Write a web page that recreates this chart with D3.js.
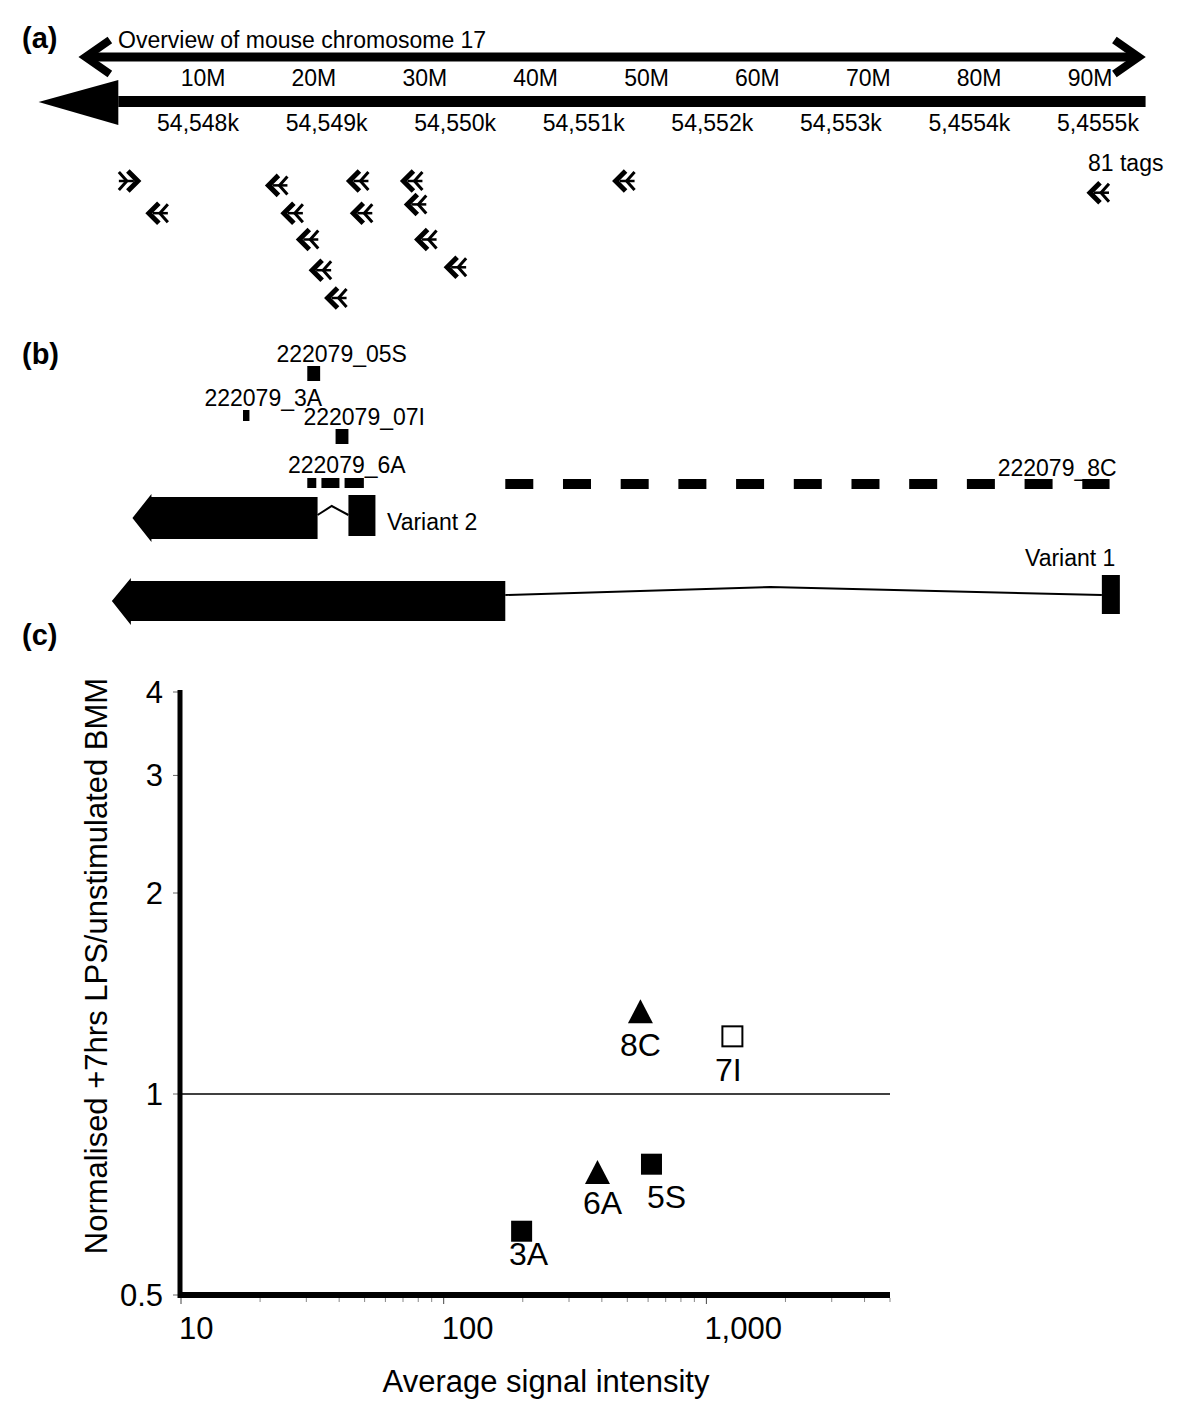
<!DOCTYPE html>
<html lang="en">
<head>
    <meta charset="UTF-8">
    <title>Mouse chromosome 17 tags and expression</title>
    <script src="https://d3js.org/d3.v7.min.js"></script>
    <style>
        body {
            margin: 0;
            background: #fff;
        }
        svg text {
            font-family: "Liberation Sans", Arial, sans-serif;
            fill: #000;
        }
    </style>
</head>
<body>
    <div id="chart"></div>

    <script>
        // ---- data ----
        // (a) chromosome overview ticks (Mb) and region ticks (kb)
        const chromTicks = [10, 20, 30, 40, 50, 60, 70, 80, 90];
        const regionTicks = [54548, 54549, 54550, 54551, 54552, 54553, 54554, 54555];
        const regionTickLabels = ["54,548k", "54,549k", "54,550k", "54,551k", "54,552k", "54,553k", "5,4554k", "5,4555k"];

        // tag positions (kb), stacking lane, strand
        const tagPos   = [54547.47, 54547.68, 54548.61, 54548.73, 54548.85, 54548.95, 54549.07,
                          54549.24, 54549.27, 54549.66, 54549.69, 54549.77, 54550.00, 54551.31, 54555.00];
        const tagLane  = [0, 1.1, 0.15, 1.1, 2, 3.05, 4, 0, 1.1, 0, 0.8, 2, 2.95, 0, 0.4];
        const tagRight = [true, false, false, false, false, false, false, false, false, false, false, false, false, false, false];

        // (b) probes (kb start/end)
        const probeNames = ["222079_05S", "222079_3A", "222079_07I", "222079_6A", "222079_8C"];
        const probeSpans = [
            [[54548.85, 54548.95]],
            [[54548.35, 54548.40]],
            [[54549.07, 54549.17]],
            [[54548.85, 54548.92], [54548.96, 54549.10], [54549.14, 54549.29]],
            [[54550.39, 54555.09]]
        ];
        const probeLabelAt = [54548.61, 54548.05, 54548.82, 54548.70, 54554.22];

        // transcripts: coding block, intron peak, first exon (kb)
        const variantNames = ["Variant 2", "Variant 1"];
        const variantBody  = [[54547.49, 54548.93], [54547.33, 54550.39]];
        const variantPeak  = [54549.04, 54552.45];
        const variantExon  = [[54549.17, 54549.38], [54555.03, 54555.17]];

        // (c) average signal vs normalised ratio
        const pointNames  = ["8C", "7I", "6A", "5S", "3A"];
        const pointSignal = [561, 1256, 385, 618, 198];
        const pointRatio  = [1.33, 1.22, 0.764, 0.785, 0.623];
        const pointShape  = ["triangle", "openSquare", "triangle", "square", "square"];

        const xTicks = [10, 100, 1000];
        const yTicks = [0.5, 1, 2, 3, 4];

        // ---- layout ----
        const width = 1200, height = 1416;
        const svg = d3.select("#chart").append("svg")
            .attr("width", width)
            .attr("height", height);
        svg.append("rect").attr("width", width).attr("height", height).attr("fill", "#fff");

        const mScale = d3.scaleLinear().domain([10, 90]).range([203, 1090]);
        const kb = d3.scaleLinear().domain([54548, 54555]).range([198, 1098]);
        const lane = d3.scaleLinear().domain([0, 4]).range([181, 298]);

        // panel letters
        [["(a)", 48], ["(b)", 364], ["(c)", 645]].forEach(([t, y]) => {
            svg.append("text").attr("x", 22).attr("y", y)
                .style("font-size", "29px").style("font-weight", "bold").text(t);
        });

        // ---- (a) ----
        const a = svg.append("g");
        a.append("line")
            .attr("x1", mScale(-0.4)).attr("x2", mScale(94.2))
            .attr("y1", 57).attr("y2", 57)
            .attr("stroke", "#000").attr("stroke-width", 9);
        a.append("path")
            .attr("d", `M${mScale(1.6)},40 L${mScale(-0.6)},57 L${mScale(1.6)},74`)
            .attr("fill", "none").attr("stroke", "#000").attr("stroke-width", 8);
        a.append("path")
            .attr("d", `M${mScale(92.2)},40 L${mScale(94.4)},57 L${mScale(92.2)},74`)
            .attr("fill", "none").attr("stroke", "#000").attr("stroke-width", 8);
        a.append("text").attr("x", 118).attr("y", 48)
            .style("font-size", "23px").text("Overview of mouse chromosome 17");

        a.selectAll(".mlab").data(chromTicks).join("text")
            .attr("x", d => mScale(d)).attr("y", 86)
            .attr("text-anchor", "middle").style("font-size", "23px")
            .text(d => d + "M");

        // region bar with big left arrow head
        a.append("rect")
            .attr("x", kb(54547.38)).attr("y", 96)
            .attr("width", kb(54555.37) - kb(54547.38)).attr("height", 11)
            .attr("fill", "#000");
        a.append("path")
            .attr("d", `M${kb(54546.76)},102 L${kb(54547.38)},80 L${kb(54547.38)},125 Z`)
            .attr("fill", "#000");
        a.selectAll(".klab").data(regionTicks).join("text")
            .attr("x", d => kb(d)).attr("y", 131)
            .attr("text-anchor", "middle").style("font-size", "23px")
            .text((d, i) => regionTickLabels[i]);

        // tag chevrons
        const tags = tagPos.map((p, i) => ({ p, l: tagLane[i], r: tagRight[i] }));
        const tg = a.selectAll(".tag").data(tags).join("g")
            .attr("transform", d => `translate(${kb(d.p)},${lane(d.l)}) scale(${d.r ? -1 : 1},1)`);
        tg.append("path")
            .attr("d", "M2,-10 L-8,0 L2,10")
            .attr("fill", "none").attr("stroke", "#000")
            .attr("stroke-width", 5).attr("stroke-linejoin", "miter");
        tg.append("path")
            .attr("d", "M11,-9 L3,0 L11,9")
            .attr("fill", "none").attr("stroke", "#000").attr("stroke-width", 3);
        tg.append("line")
            .attr("x1", -4).attr("x2", 11).attr("y1", 0).attr("y2", 0)
            .attr("stroke", "#000").attr("stroke-width", 2.5);

        a.append("text").attr("x", 1088).attr("y", 171)
            .style("font-size", "23px").text("81 tags");

        // ---- (b) ----
        const b = svg.append("g");
        const probeRow = [[366, 15, 362], [410, 11, 406], [429, 15, 425], [478, 10, 473], [479, 10, 476]];
        probeNames.forEach((name, i) => {
            const [y, h, ly] = probeRow[i];
            if (i < 4) {
                b.selectAll(null).data(probeSpans[i]).join("rect")
                    .attr("x", d => kb(d[0])).attr("y", y)
                    .attr("width", d => kb(d[1]) - kb(d[0])).attr("height", h)
                    .attr("fill", "#000");
            } else {
                // long probe drawn dashed
                b.append("line")
                    .attr("x1", kb(probeSpans[i][0][0])).attr("x2", kb(probeSpans[i][0][1]))
                    .attr("y1", y + h / 2).attr("y2", y + h / 2)
                    .attr("stroke", "#000").attr("stroke-width", h)
                    .attr("stroke-dasharray", "28,29.7");
            }
            b.append("text").attr("x", kb(probeLabelAt[i])).attr("y", ly)
                .style("font-size", "23px").text(name);
        });

        const varRow = [
            { top: 497, bot: 539, headTop: 494, headBot: 542, peakY: 506, baseY: 515, exTop: 495, exBot: 536, ly: 530, lx: 387 },
            { top: 581, bot: 621, headTop: 578, headBot: 625, peakY: 587, baseY: 595, exTop: 575, exBot: 614, ly: 566, lx: 1025 }
        ];
        variantNames.forEach((name, i) => {
            const r = varRow[i];
            const x0 = kb(variantBody[i][0]), x1 = kb(variantBody[i][1]);
            const mid = (r.top + r.bot) / 2;
            const head = x0 + 19;
            b.append("path")
                .attr("d", `M${x0},${mid} L${head},${r.headTop} L${head},${r.top} L${x1},${r.top} L${x1},${r.bot} L${head},${r.bot} L${head},${r.headBot} Z`)
                .attr("fill", "#000");
            const ex0 = kb(variantExon[i][0]), ex1 = kb(variantExon[i][1]);
            b.append("path")
                .attr("d", `M${x1},${r.baseY} L${kb(variantPeak[i])},${r.peakY} L${ex0},${r.baseY}`)
                .attr("fill", "none").attr("stroke", "#000").attr("stroke-width", 2);
            b.append("rect")
                .attr("x", ex0).attr("y", r.exTop)
                .attr("width", ex1 - ex0).attr("height", r.exBot - r.exTop)
                .attr("fill", "#000");
            b.append("text").attr("x", r.lx).attr("y", r.ly)
                .style("font-size", "23px").text(name);
        });

        // ---- (c) ----
        const x = d3.scaleLog().domain([10, 5000]).range([181, 890]);
        const y = d3.scaleLog().base(2).domain([0.5, 4]).range([1295, 692]);
        const c = svg.append("g");

        // minor x ticks
        const minor = [];
        [10, 100, 1000].forEach(dec => { for (let k = 2; k <= 9; k++) if (dec * k <= 5000) minor.push(dec * k); });
        c.selectAll(".minor").data(minor).join("line")
            .attr("x1", d => x(d)).attr("x2", d => x(d))
            .attr("y1", 1298).attr("y2", 1302)
            .attr("stroke", "#888").attr("stroke-width", 1);
        c.selectAll(".major").data(xTicks).join("line")
            .attr("x1", d => x(d)).attr("x2", d => x(d))
            .attr("y1", 1298).attr("y2", 1304)
            .attr("stroke", "#444").attr("stroke-width", 1);
        c.selectAll(".ytick").data(yTicks).join("line")
            .attr("x1", 173).attr("x2", 178)
            .attr("y1", d => y(d)).attr("y2", d => y(d))
            .attr("stroke", "#666").attr("stroke-width", 1);

        // reference line at ratio 1
        c.append("line")
            .attr("x1", x(10)).attr("x2", x(5000))
            .attr("y1", y(1)).attr("y2", y(1))
            .attr("stroke", "#000").attr("stroke-width", 1.5);

        // axes lines
        c.append("line")
            .attr("x1", 180).attr("x2", 180)
            .attr("y1", y(4) - 2).attr("y2", y(0.5) + 3)
            .attr("stroke", "#000").attr("stroke-width", 5);
        c.append("line")
            .attr("x1", 178).attr("x2", x(5000))
            .attr("y1", y(0.5)).attr("y2", y(0.5))
            .attr("stroke", "#000").attr("stroke-width", 6);

        c.selectAll(".ylab").data(yTicks).join("text")
            .attr("x", 163).attr("y", d => y(d) + 11)
            .attr("text-anchor", "end").style("font-size", "31px")
            .text(d => d);
        c.selectAll(".xlab").data(xTicks).join("text")
            .attr("x", d => x(d) - 2).attr("y", 1339)
            .attr("text-anchor", "start").style("font-size", "31px")
            .text(d => d3.format(",")(d));

        c.append("text")
            .attr("transform", "translate(107,966) rotate(-90)")
            .attr("text-anchor", "middle").style("font-size", "31px")
            .text("Normalised +7hrs LPS/unstimulated BMM");
        c.append("text")
            .attr("x", 546).attr("y", 1392)
            .attr("text-anchor", "middle").style("font-size", "31px")
            .text("Average signal intensity");

        // points
        const labelShift = { "8C": [0, 45], "7I": [-4, 45], "6A": [5, 42], "5S": [15, 44], "3A": [7, 34] };
        const pts = pointNames.map((n, i) => ({ n, sx: pointSignal[i], r: pointRatio[i], s: pointShape[i] }));
        const pg = c.selectAll(".pt").data(pts).join("g")
            .attr("transform", d => `translate(${x(d.sx)},${y(d.r)})`);
        pg.filter(d => d.s === "triangle").append("path")
            .attr("d", "M0,-12 L12.5,12 L-12.5,12 Z").attr("fill", "#000");
        pg.filter(d => d.s === "square").append("rect")
            .attr("x", -10.5).attr("y", -10.5).attr("width", 21).attr("height", 21)
            .attr("fill", "#000");
        pg.filter(d => d.s === "openSquare").append("rect")
            .attr("x", -10).attr("y", -10).attr("width", 20).attr("height", 20)
            .attr("fill", "#fff").attr("stroke", "#000").attr("stroke-width", 2);
        pg.append("text")
            .attr("x", d => labelShift[d.n][0]).attr("y", d => labelShift[d.n][1])
            .attr("text-anchor", "middle").style("font-size", "32px")
            .text(d => d.n);
    </script>
</body>
</html>
